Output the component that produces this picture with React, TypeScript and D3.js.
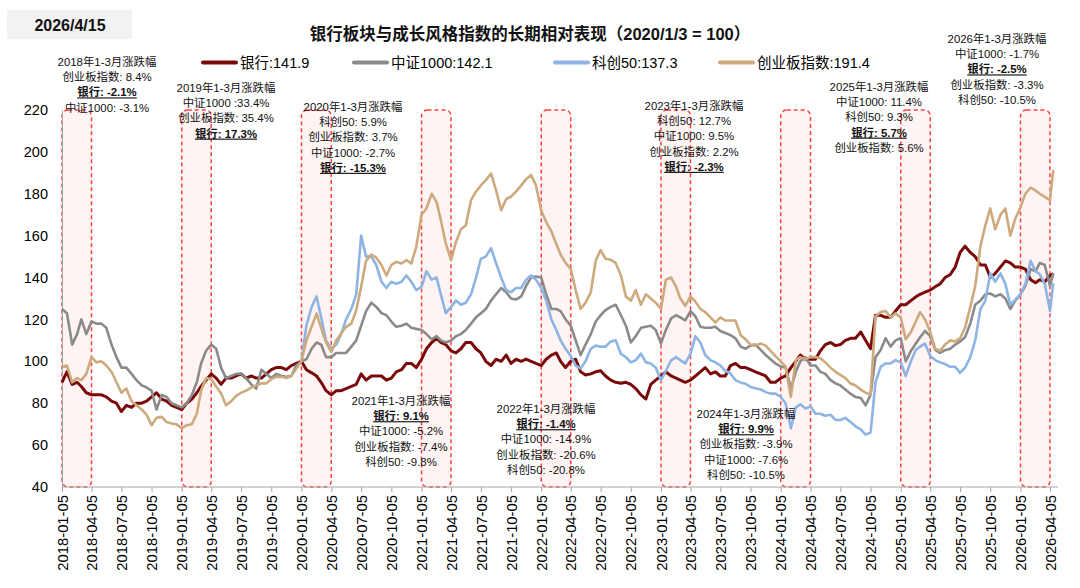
import React, { useRef, useEffect } from 'react';
import * as d3 from 'd3';

// semi-monthly readings (5th and 20th of each month), last point is 2026-04-15
const bank = [
  90, 95, 89, 90, 88, 85, 84, 84, 84, 83, 81, 80, 76, 79, 78, 80, 80, 81, 83, 85, 82, 81, 79, 78, // 2018
  77, 80, 82, 85, 88, 91, 94, 92, 89, 92, 92, 93, 94, 92, 93, 92, 92, 94, 96, 97, 97, 96, 98, 99, // 2019
  100, 96, 94.5, 93, 90, 86, 84, 86, 86, 87, 88, 89, 94, 91, 93, 93, 93, 91, 92, 95, 96, 99, 99, 97, // 2020
  101, 106, 109, 111, 109, 108, 105, 104, 106, 109, 109, 106, 104, 100, 98, 101, 100, 103, 99, 101, 100, 101, 100, 99, // 2021
  98, 101, 103, 104, 100, 97, 100, 101, 95, 93.5, 94, 95, 95.5, 93, 91, 90, 89.5, 90, 89, 87, 84, 82, 89, 91, // 2022
  93, 95, 93, 92, 91, 90, 91, 93, 95, 97, 94, 95, 93, 93, 98, 99, 97, 97, 96, 95, 94, 93, 90, 90, // 2023
  92, 93, 97, 100, 103, 101, 101, 101, 105, 108, 109, 107.5, 108, 110, 111, 111, 114, 110, 106, 122, 122, 121, 121, 124, // 2024
  127, 127, 129, 130.8, 132, 133, 134, 135.6, 137, 140, 141.5, 145, 152, 155, 152, 150, 146, 146, 140, 142, 145, 148, 147, 145, // 2025
  145, 144, 139, 137.5, 139, 138, 141, 141.9, // 2026
];

const csi1000 = [
  125, 123, 108, 113, 120, 113, 119, 118, 118, 116, 108, 102, 97, 97, 94, 91, 88.5, 87.5, 86, 77, 84, 83, 80, 79,
  78, 80, 84, 90, 99, 105, 108, 106, 97, 92, 93, 94, 94, 92, 89, 87, 96, 94, 92, 94, 93, 92.6, 93, 98,
  100, 101, 106, 109, 108, 102, 102, 104, 104, 104, 107, 110, 117, 124, 128, 126, 123, 122, 119, 116.5, 117, 118, 116, 115.5,
  115, 113, 110.5, 112, 110, 109, 110, 112, 113, 115, 118, 121, 123, 125, 129, 132, 135, 133, 130, 129.5, 131, 136, 140, 140.5,
  140, 132, 125, 125, 124, 120, 117, 110, 103, 108, 113, 119, 122, 124.5, 126, 127, 122, 117, 109, 112, 116, 116.5, 117, 115,
  108.5, 115, 120.5, 122, 121, 119.5, 124, 121.5, 116.5, 116, 116, 116.5, 114.5, 113.5, 112.5, 111, 107, 106, 107.5, 108, 105.5, 103, 101, 99,
  97.5, 97, 87, 95, 100, 102, 98, 98, 95, 94, 91, 89.5, 88.5, 86.5, 84.5, 83, 82.5, 79, 84, 102, 105.5, 111, 107, 110,
  111, 100, 105, 108.5, 111.5, 114.5, 112, 105.5, 104, 105.3, 106, 108, 109.5, 111.5, 118, 127, 129, 132, 132.4, 131, 132, 130, 125, 129,
  132, 136, 144, 143, 147, 146, 136, 142.1,
];

// 科创50 starts on 2020-01-05
const star50Start = 48;
const star50 = [
  100, 117, 126, 131, 121, 110, 106, 108, 113, 120, 125, 132, 160, 150, 150, 146, 138, 135, 138, 137, 138, 141, 138, 134,
  135.6, 143, 139, 140, 132, 123, 126, 129, 127, 128, 132, 140, 149, 150, 154, 147, 140, 134, 133, 135, 135, 139, 141, 139,
  135, 129, 120, 115, 110, 106, 102.5, 98, 96.6, 100, 106, 107.5, 107, 107, 109.5, 110, 103.5, 102, 99.5, 100.5, 103.7, 99.5, 99, 97,
  91, 95.5, 100.5, 102, 100.6, 99, 103.7, 112, 109, 103, 100.6, 99.5, 98, 95.5, 94.2, 91, 89.8, 89.3, 87.8, 87.2, 86.6, 85.3, 84.6, 84.6,
  83, 80, 68, 78, 79.5, 77.5, 78.5, 75, 75, 74, 74.5, 72, 72, 73, 71, 69, 67.5, 65, 66, 90, 97.5, 99, 99, 100.6,
  99.5, 93, 100, 105.5, 107, 108.5, 102.5, 100.6, 99.5, 98.7, 97.4, 97.4, 94.5, 97, 102, 110, 125, 129, 142, 138, 142, 137, 127, 129.5,
  132, 137, 148, 143, 141.5, 137, 124, 137.3,
];

const chinext = [
  97.4, 98, 90, 92, 91, 94, 102, 99.5, 100, 98, 95, 90, 85, 87, 81, 79, 77, 74.5, 69.5, 73, 73.5, 71, 70.3, 70,
  68, 69.5, 70, 75, 86, 92, 91.5, 88, 84.7, 79, 81, 83.5, 85, 86, 87.5, 88.5, 89.5, 89.5, 91.5, 92.6, 92.6, 92, 93, 96.5,
  100, 110, 116.5, 122.8, 116, 109, 104.5, 110, 113.3, 116.5, 118, 124.4, 135.6, 148, 151, 149.5, 146, 141, 146, 147.5, 146.7, 148.3, 146.7, 154.7,
  170, 173, 180, 176, 167.4, 156.3, 148.3, 157, 163, 165, 177, 181, 184, 186.5, 189.7, 181.8, 172.2, 177.5, 178.6, 181, 184, 187, 189, 184,
  172, 166.5, 162, 156, 151, 147, 144, 134, 125, 128, 133, 148, 153.1, 149, 148.5, 147, 141, 131, 129, 134, 127, 132, 130, 128,
  125, 139, 140, 135.6, 130, 126.5, 131, 128.5, 125, 123.5, 121, 118.5, 121, 119.5, 119.5, 119.5, 112.5, 110.5, 108, 107.5, 108.5, 107.5, 105, 102.5,
  100, 97.5, 83, 100.6, 102, 101, 102, 102, 101.5, 99.5, 97, 95, 93.5, 92, 89.4, 88.5, 86.5, 85, 84, 121.5, 123.5, 124, 121, 122.9,
  121, 110.5, 114, 119, 123.5, 120, 114, 106, 105, 108, 110, 109.5, 111, 116, 126, 136, 155, 165, 173, 163, 170, 173, 160, 168,
  173.5, 180, 183, 181.5, 180, 178.5, 177, 191.4,
];

const seriesNames = ['银行', '中证1000', '科创50', '创业板指数'];
const seriesColors = ['#7a0a0a', '#8a8a8a', '#8eb4e3', '#cdaa7d'];
const yTicks = [40, 60, 80, 100, 120, 140, 160, 180, 200, 220];
const highlightYears = [2018, 2019, 2020, 2021, 2022, 2023, 2024, 2025, 2026];

const notes = [
  ['2018年1-3月涨跌幅', '创业板指数: 8.4%', '银行: -2.1%', '中证1000: -3.1%'],
  ['2019年1-3月涨跌幅', '中证1000 :33.4%', '创业板指数: 35.4%', '银行: 17.3%'],
  ['2020年1-3月涨跌幅', '科创50: 5.9%', '创业板指数: 3.7%', '中证1000: -2.7%', '银行: -15.3%'],
  ['2021年1-3月涨跌幅', '银行: 9.1%', '中证1000: -5.2%', '创业板指数: -7.4%', '科创50: -9.8%'],
  ['2022年1-3月涨跌幅', '银行: -1.4%', '中证1000: -14.9%', '创业板指数: -20.6%', '科创50: -20.8%'],
  ['2023年1-3月涨跌幅', '科创50: 12.7%', '中证1000: 9.5%', '创业板指数: 2.2%', '银行: -2.3%'],
  ['2024年1-3月涨跌幅', '银行: 9.9%', '创业板指数: -3.9%', '中证1000: -7.6%', '科创50: -10.5%'],
  ['2025年1-3月涨跌幅', '中证1000: 11.4%', '科创50: 9.3%', '银行: 5.7%', '创业板指数: 5.6%'],
  ['2026年1-3月涨跌幅', '中证1000: -1.7%', '银行: -2.5%', '创业板指数: -3.3%', '科创50: -10.5%'],
];

// where each note block sits: centre x, first line centre y
const notePos = [[107, 62], [226, 88], [353, 107], [401, 401], [546, 409], [694, 106], [746, 414], [879, 87], [997, 39]];
const legendX = [203, 354, 555, 720];

const FONT = "'Liberation Sans', Arial, 'Noto Sans CJK SC', sans-serif";

const App: React.FC = () => {
  const svgRef = useRef<SVGSVGElement>(null);

  useEffect(() => {
    if (!svgRef.current) return;
    const svg = d3.select(svgRef.current);
    svg.selectAll('*').remove();

    const dates = d3.range(bank.length).map(i =>
      i === bank.length - 1 ? new Date(2026, 3, 15) : new Date(2018, Math.floor(i / 2), i % 2 ? 20 : 5));

    const x = d3.scaleTime().domain([new Date(2018, 0, 5), new Date(2026, 3, 5)]).range([62, 1050]);
    const y = d3.scaleLinear().domain([40, 220]).range([487, 110]);

    svg.append('rect').attr('width', 1080).attr('height', 588).attr('fill', '#fff');

    // date badge and title
    svg.append('rect').attr('x', 7).attr('y', 10).attr('width', 125).attr('height', 29).attr('fill', '#f2f2f2');
    svg.append('text').attr('x', 70).attr('y', 31).attr('text-anchor', 'middle')
      .attr('font-size', 16).attr('font-weight', 'bold').attr('fill', '#111').text('2026/4/15');
    svg.append('text').attr('x', 530).attr('y', 40).attr('text-anchor', 'middle')
      .attr('font-size', 16.5).attr('font-weight', 'bold').attr('fill', '#111')
      .text('银行板块与成长风格指数的长期相对表现（2020/1/3 = 100）');

    // Q1 highlight boxes
    svg.append('g').selectAll('rect').data(highlightYears).join('rect')
      .attr('x', d => x(new Date(d, 0, 5)))
      .attr('y', y(220))
      .attr('width', d => x(new Date(d, 3, 5)) - x(new Date(d, 0, 5)))
      .attr('height', y(40) - y(220))
      .attr('rx', 6)
      .attr('fill', '#fff4f4')
      .attr('stroke', '#ff4040')
      .attr('stroke-width', 1.5)
      .attr('stroke-dasharray', '4 3');

    // y axis
    const yAxis = svg.append('g').attr('transform', 'translate(62,0)')
      .call(d3.axisLeft(y).tickValues(yTicks).tickSize(0).tickPadding(14));
    yAxis.select('.domain').attr('stroke', '#a6a6a6');
    yAxis.selectAll('text').attr('font-size', 14.5).attr('font-family', FONT).attr('fill', '#000');

    // x axis
    const xTicks = d3.range(34).map(i => new Date(2018, i * 3, 5));
    const xAxis = svg.append('g').attr('transform', 'translate(0,487)')
      .call(d3.axisBottom(x).tickValues(xTicks).tickFormat(d3.timeFormat('%Y-%m-%d') as any).tickSize(5));
    xAxis.select('.domain').remove();
    xAxis.selectAll('line').attr('stroke', '#a6a6a6');
    xAxis.selectAll('text')
      .attr('font-size', 14.8).attr('font-family', FONT).attr('fill', '#000')
      .attr('text-anchor', 'end')
      .attr('transform', 'rotate(-90)')
      .attr('x', -8).attr('y', 0).attr('dy', '0.35em');
    svg.append('line').attr('x1', 62).attr('x2', 1058).attr('y1', 487).attr('y2', 487)
      .attr('stroke', '#a6a6a6').attr('stroke-width', 1.2);

    // series
    const all = [
      { values: bank, offset: 0 },
      { values: csi1000, offset: 0 },
      { values: star50, offset: star50Start },
      { values: chinext, offset: 0 },
    ];
    all.forEach((s, k) => {
      const line = d3.line<number>()
        .x((_, i) => x(dates[i + s.offset]))
        .y(d => y(d));
      svg.append('path').datum(s.values)
        .attr('d', line)
        .attr('fill', 'none')
        .attr('stroke', seriesColors[k])
        .attr('stroke-width', k === 0 ? 3 : 2.6)
        .attr('stroke-linejoin', 'round');
    });

    // legend
    const legend = svg.append('g').attr('font-family', FONT).attr('font-size', 14.5);
    all.forEach((s, k) => {
      const lx = legendX[k];
      legend.append('line').attr('x1', lx).attr('x2', lx + 33).attr('y1', 62.5).attr('y2', 62.5)
        .attr('stroke', seriesColors[k]).attr('stroke-width', 4).attr('stroke-linecap', 'round');
      legend.append('text').attr('x', lx + 37).attr('y', 67.5).attr('fill', '#000')
        .text(`${seriesNames[k]}:${s.values[s.values.length - 1].toFixed(1)}`);
    });

    // Q1 notes
    const noteG = svg.append('g').attr('font-family', FONT).attr('font-size', 11.4).attr('text-anchor', 'middle');
    notes.forEach((lines, n) => {
      const [cx, cy] = notePos[n];
      lines.forEach((t, j) => {
        const isBank = t.startsWith('银行');
        noteG.append('text')
          .attr('x', cx).attr('y', cy + j * 15.2 + 4)
          .attr('fill', '#111')
          .attr('font-weight', isBank ? 'bold' : 'normal')
          .attr('text-decoration', isBank ? 'underline' : 'none')
          .attr('paint-order', 'stroke')
          .attr('stroke', '#fff').attr('stroke-width', 0)
          .text(t);
      });
    });
  }, []);

  return (
    <div style={{ position: 'absolute', left: 0, top: 0 }}>
      <svg ref={svgRef} width={1080} height={588} style={{ display: 'block', fontFamily: FONT }} />
    </div>
  );
};

export default App;
